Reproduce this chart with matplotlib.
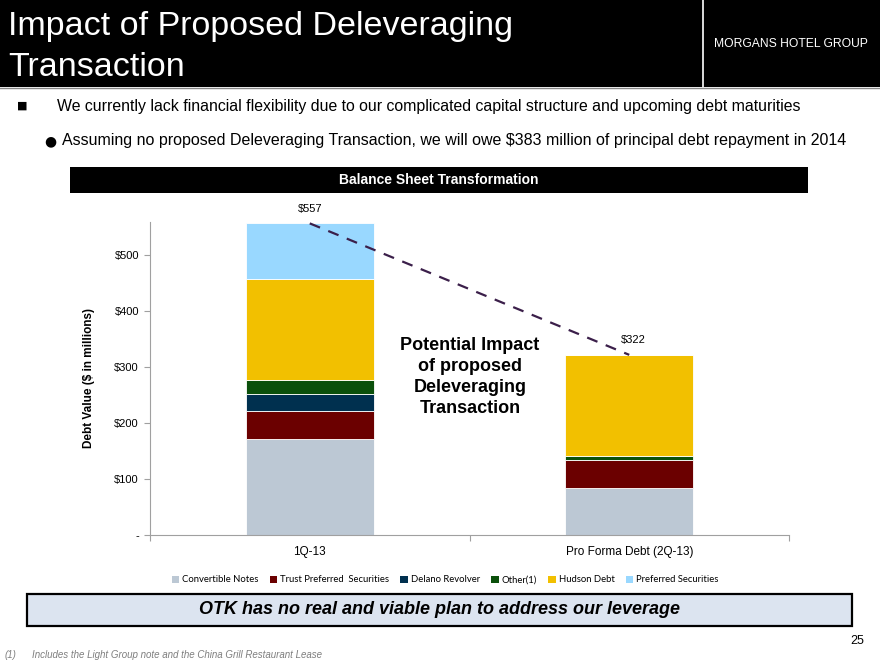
import matplotlib.pyplot as plt
from matplotlib.patches import Rectangle, Patch
import numpy as np

W, H = 880, 660

categories = ['1Q-13', 'Pro Forma Debt (2Q-13)']
series_names = ['Convertible Notes', 'Trust Preferred  Securities', 'Delano Revolver',
                'Other(1)', 'Hudson Debt', 'Preferred Securities']
convertible = [172, 84]
trust_pref = [50, 50]
delano = [30, 0]
other = [25, 8]
hudson = [180, 180]
preferred = [100, 0]
totals = [557, 322]
colors = ['#BCC8D4', '#6B0000', '#00304F', '#0B500B', '#F2C000', '#99D8FF']

plt.rcParams['font.family'] = ['Liberation Sans', 'DejaVu Sans']

fig = plt.figure(figsize=(W / 100, H / 100), dpi=100)


def fx(x):
    return x / W


def fy(y):
    return 1 - y / H


def box(x0, y0, x1, y1, **kw):
    fig.patches.append(Rectangle((fx(x0), fy(y1)), fx(x1 - x0), (y1 - y0) / H,
                                 transform=fig.transFigure, **kw))


# header
box(0, 0, 880, 87, facecolor='black', edgecolor='none')
fig.add_artist(plt.Line2D([fx(703), fx(703)], [fy(0), fy(87)], color='white', lw=1.2,
                          transform=fig.transFigure))
fig.add_artist(plt.Line2D([0, 1], [fy(88), fy(88)], color='#888888', lw=1,
                          transform=fig.transFigure))
fig.text(fx(8), fy(27), 'Impact of Proposed Deleveraging', color='white', fontsize=24.5,
         va='center', ha='left')
fig.text(fx(8), fy(67), 'Transaction', color='white', fontsize=24.5, va='center', ha='left')
fig.text(fx(791), fy(44), 'MORGANS HOTEL GROUP', color='white', fontsize=8.7,
         va='center', ha='center')

# bullets
fig.text(fx(22), fy(106), '■', fontsize=8, va='center', ha='center', family=['DejaVu Sans'])
fig.text(fx(57), fy(106), 'We currently lack financial flexibility due to our complicated '
         'capital structure and upcoming debt maturities', fontsize=11.45, va='center')
fig.text(fx(50), fy(141), '●', fontsize=10, va='center', ha='center', family=['DejaVu Sans'])
fig.text(fx(62), fy(141), 'Assuming no proposed Deleveraging Transaction, we will owe $383 '
         'million of principal debt repayment in 2014', fontsize=11.5, va='center')

# section bar
box(70, 167, 808, 193, facecolor='black', edgecolor='none')
fig.text(fx(439), fy(180), 'Balance Sheet Transformation', color='white', fontsize=10,
         fontweight='bold', va='center', ha='center')

# chart
ax = fig.add_axes([fx(150), fy(535), fx(639), (535 - 221.7) / H])
x = np.arange(len(categories))
bottom = np.zeros(len(categories))
handles = []
for vals, name, c in zip([convertible, trust_pref, delano, other, hudson, preferred],
                         series_names, colors):
    ax.bar(x, vals, bottom=bottom, width=0.4, color=c, edgecolor='white', linewidth=0.6)
    bottom += np.array(vals)
    handles.append(Patch(facecolor=c, label=name))

ax.plot(x, totals, color='#3B1F4A', lw=1.6, dashes=(5, 4))
for xi, t in zip(x, totals):
    ax.annotate(f'${t}', (xi, t), xytext=(0 if xi == 0 else 3, 7), textcoords='offset points',
                ha='center', va='bottom', fontsize=8)

ax.set_xlim(-0.5, 1.5)
ax.set_ylim(0, 560)
ax.set_yticks([0, 100, 200, 300, 400, 500])
ax.set_yticklabels(['-', '$100', '$200', '$300', '$400', '$500'], fontsize=8)
ax.set_xticks([-0.5, 0.5, 1.5])
ax.set_xticklabels([])
ax.set_xticks(x, minor=True)
ax.set_xticklabels(categories, minor=True, fontsize=8.5)
ax.tick_params(axis='x', which='minor', length=0, pad=8)
ax.tick_params(axis='x', which='major', length=4, color='#A0A0A0')
ax.tick_params(axis='y', length=4, color='#A0A0A0', pad=4)
for s in ['top', 'right']:
    ax.spines[s].set_visible(False)
ax.spines['left'].set_color('#A0A0A0')
ax.spines['bottom'].set_color('#A0A0A0')
ax.set_ylabel('Debt Value ($ in millions)', fontsize=8.5, fontweight='bold', labelpad=14)

fig.text(fx(470), fy(377), 'Potential Impact\nof proposed\nDeleveraging\nTransaction',
         fontsize=13, fontweight='bold', ha='center', va='center', linespacing=1.33)

fig.legend(handles=handles, loc='center', bbox_to_anchor=(fx(445), fy(580)), ncol=6,
           frameon=False, handlelength=0.8, handleheight=0.8,
           handletextpad=0.3, columnspacing=1.2, prop={'family': 'Lato', 'size': 6.8})

# bottom message
box(27, 594, 852, 626, facecolor='#DCE4F0', edgecolor='black', linewidth=1.6)
fig.text(fx(439.5), fy(610), 'OTK has no real and viable plan to address our leverage',
         fontsize=13, fontweight='bold', style='italic', ha='center', va='center')

fig.text(fx(5), fy(655), '(1)', fontsize=7, style='italic', color='#7F7F7F', va='center')
fig.text(fx(32), fy(655), 'Includes the Light Group note and the China Grill Restaurant Lease',
         fontsize=7, style='italic', color='#7F7F7F', va='center')
fig.text(fx(857), fy(641), '25', fontsize=9, ha='center', va='center')

fig.savefig('out.png', dpi=100)
